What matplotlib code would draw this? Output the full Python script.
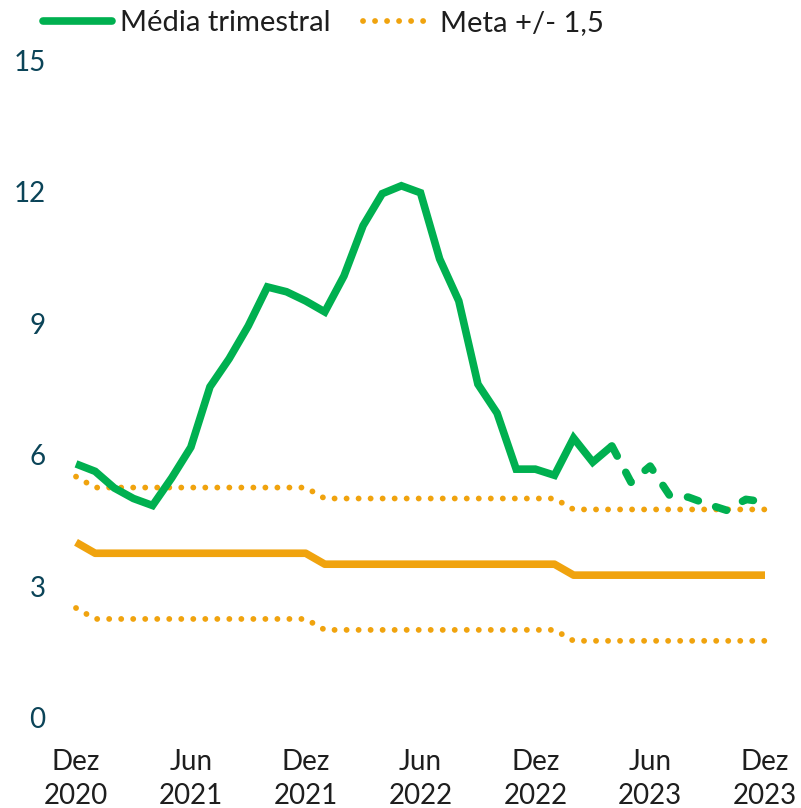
import matplotlib
matplotlib.use("Agg")
import matplotlib.pyplot as plt
from matplotlib.lines import Line2D

plt.rcParams['font.family'] = ['Lato', 'DejaVu Sans']

# Monthly index: 0 = Dez 2020 ... 36 = Dez 2023
months = list(range(37))

# Quarterly average (3-month moving average), % a.a.
media_trimestral = [5.79, 5.62, 5.24, 5.00, 4.84, 5.47, 6.17, 7.55, 8.19, 8.94,
                    9.83, 9.72, 9.51, 9.26, 10.08, 11.23, 11.96, 12.14, 11.98, 10.47,
                    9.51, 7.61, 6.95, 5.67, 5.67, 5.53, 6.38, 5.83, 6.20, 5.37,
                    5.74, 5.08, 5.03, 4.87, 4.73, 4.98, 4.92]
last_observed = 28  # points after this index are projections (dashed)

# Inflation target and tolerance band
meta = [4.0] + [3.75] * 12 + [3.5] * 13 + [3.25] * 11
tolerance = 1.5

tick_pos = [0, 6, 12, 18, 24, 30, 36]
tick_labels = ["Dez\n2020", "Jun\n2021", "Dez\n2021", "Jun\n2022",
               "Dez\n2022", "Jun\n2023", "Dez\n2023"]
y_ticks = [0, 3, 6, 9, 12, 15]

GREEN = "#00B050"
ORANGE = "#F0A30E"
YLAB = "#0B4458"
TXT = "#1E1E1E"

W, H = 801, 808
fig = plt.figure(figsize=(W / 100, H / 100), dpi=100)
ax = fig.add_axes([76 / W, (H - 717.5) / H, 689 / W, 657 / H])

upper = [m + tolerance for m in meta]
lower = [m - tolerance for m in meta]

DOT_LW = 4.2
DOTS = (0.01, 2.05)
for band in (upper, lower):
    ax.plot(months, band, color=ORANGE, lw=DOT_LW, dashes=DOTS,
            dash_capstyle="round", clip_on=False)
ax.plot(months, meta, color=ORANGE, lw=5.5, solid_capstyle="butt", clip_on=False)

ax.plot(months[:last_observed + 1], media_trimestral[:last_observed + 1],
        color=GREEN, lw=5.5, solid_capstyle="butt", solid_joinstyle="miter",
        clip_on=False)
ax.plot(months[last_observed:], media_trimestral[last_observed:],
        color=GREEN, lw=5.5, dashes=(1.5, 2.4), dash_capstyle="round",
        clip_on=False)

ax.set_xlim(0, 36)
ax.set_ylim(0, 15)
ax.set_yticks(y_ticks)
ax.set_yticklabels([str(v) for v in y_ticks], fontsize=20, color=YLAB)
ax.set_xticks(tick_pos)
ax.set_xticklabels(tick_labels, fontsize=20, color=TXT, linespacing=1.38)
ax.tick_params(axis="y", length=0, pad=22)
ax.tick_params(axis="x", length=0, pad=23)
for s in ax.spines.values():
    s.set_visible(False)

handles = [
    Line2D([], [], color=GREEN, lw=5.5, solid_capstyle="round"),
    Line2D([], [], color=ORANGE, lw=DOT_LW, dashes=DOTS, dash_capstyle="round"),
]
fig.legend(handles, ["Média trimestral", "Meta +/- 1,5"], ncol=2, frameon=False,
           loc="center left", bbox_to_anchor=(43 / W, 1 - 23 / H),
           fontsize=21, labelcolor=TXT, handlelength=2.35, handletextpad=0.3,
           columnspacing=1.1, borderpad=0, borderaxespad=0)

fig.savefig("out.png", dpi=100)
